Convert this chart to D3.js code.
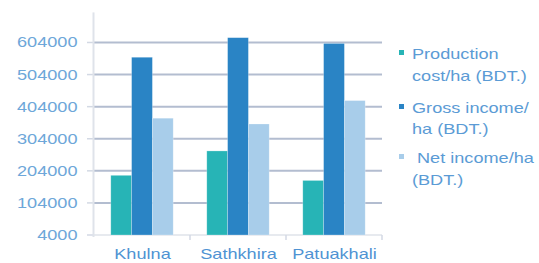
<!DOCTYPE html>
<html><head><meta charset="utf-8">
<script src="https://cdn.jsdelivr.net/npm/d3@7"></script>
<style>body{margin:0;background:#fff}svg{display:block}text{font-family:"Liberation Sans",Arial,sans-serif}</style>
</head><body>
<svg id="c" width="539" height="263"></svg>
<script>
const categories = ["Khulna", "Sathkhira", "Patuakhali"];
const seriesNames = ["Production cost/ha (BDT.)", "Gross income/ha (BDT.)", "Net income/ha (BDT.)"];
const legendLines = [["Production", "cost/ha (BDT.)"], ["Gross income/", "ha (BDT.)"], ["\u00a0Net income/ha", "(BDT.)"]];
const productionCost = [190000, 266000, 174000];
const grossIncome = [558000, 619000, 601000];
const netIncome = [368000, 350000, 423000];
const yTicks = [4000, 104000, 204000, 304000, 404000, 504000, 604000];
const colors = ["#27b4b6", "#2a84c5", "#a8cdea"];
const series = [productionCost, grossIncome, netIncome];

const svg = d3.select("#c");
const x = d3.scaleBand().domain(categories).range([94, 382]).padding(0);
const y = d3.scaleLinear().domain([4000, 704000]).range([235, 10.4]);
const inner = d3.scaleBand().domain(d3.range(series.length)).range([0, x.bandwidth() * 0.65]);
const groupOff = x.bandwidth() * 0.175;
const sx = 1.25, fs = 14.5;

// gridlines
svg.append("g").selectAll("line").data(yTicks.slice(1)).join("line")
  .attr("x1", 94).attr("x2", 382).attr("y1", d => y(d)).attr("y2", d => y(d))
  .attr("stroke", "#b3bdd0").attr("stroke-width", 2);
// y tick marks
svg.append("g").selectAll("line").data(yTicks).join("line")
  .attr("x1", 87).attr("x2", 94).attr("y1", d => y(d)).attr("y2", d => y(d))
  .attr("stroke", "#d3d9e4").attr("stroke-width", 1.5);
// y axis line
svg.append("line").attr("x1", 93.5).attr("x2", 93.5).attr("y1", y.range()[1] + 2).attr("y2", y(4000) + 2)
  .attr("stroke", "#dfe3ea").attr("stroke-width", 2);
// x axis line
svg.append("line").attr("x1", 94).attr("x2", 382).attr("y1", y(4000)).attr("y2", y(4000))
  .attr("stroke", "#dfe3ea").attr("stroke-width", 1.5);
// x ticks at band boundaries
svg.append("g").selectAll("line").data(categories).join("line")
  .attr("x1", d => x(d) + x.bandwidth()).attr("x2", d => x(d) + x.bandwidth())
  .attr("y1", y(4000)).attr("y2", y(4000) + 5)
  .attr("stroke", "#d3d9e4").attr("stroke-width", 1.5);

// y labels
svg.append("g").selectAll("text").data(yTicks).join("text")
  .attr("transform", d => `translate(77.5,${y(d) + 5}) scale(${sx},1)`)
  .attr("text-anchor", "end").attr("font-size", fs).attr("fill", "#6ea7d9")
  .text(d => d);

// bars
series.forEach((vals, si) => {
  svg.append("g").selectAll("rect").data(categories).join("rect")
    .attr("x", (c) => x(c) + groupOff + inner(si))
    .attr("width", inner.bandwidth())
    .attr("y", (c, i) => y(vals[i]))
    .attr("height", (c, i) => y(4000) - y(vals[i]))
    .attr("fill", colors[si])
    .attr("stroke", "rgba(255,255,255,0.35)").attr("stroke-width", 0.7);
});

// x labels
svg.append("g").selectAll("text").data(categories).join("text")
  .attr("transform", d => `translate(${x(d) + x.bandwidth() / 2 + 0.5},258.5) scale(${sx},1)`)
  .attr("text-anchor", "middle").attr("font-size", fs).attr("fill", "#4f93d3")
  .text(d => d);

// legend
const legY = [[59, 81], [113, 134], [163, 185]];
legendLines.forEach((lines, i) => {
  const g = svg.append("g");
  g.append("rect").attr("x", 399).attr("y", legY[i][0] - 9).attr("width", 5).attr("height", 5).attr("fill", colors[i]);
  lines.forEach((t, j) => {
    g.append("text").attr("transform", `translate(412,${legY[i][j]}) scale(${sx},1)`)
      .attr("font-size", fs).attr("fill", "#5b9bd5").style("white-space", "pre").text(t);
  });
});
</script>
</body></html>
